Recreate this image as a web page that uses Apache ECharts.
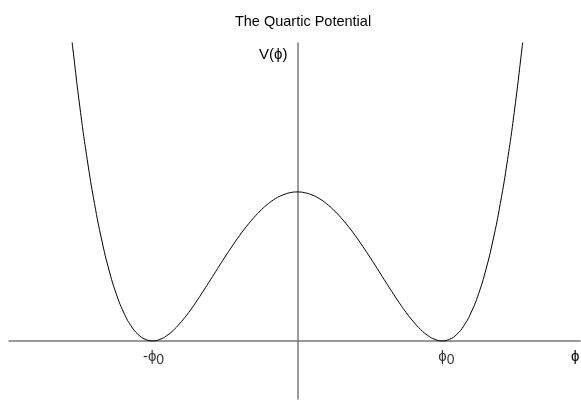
<!DOCTYPE html>
<html>
<head>
<meta charset="utf-8">
<script src="https://cdn.jsdelivr.net/npm/echarts@6/dist/echarts.min.js"></script>
<style>
  html, body { margin: 0; padding: 0; background: #fff; }
  #chart { width: 581px; height: 412px; }
</style>
</head>
<body>
<div id="chart"></div>
<script>
// Field values phi (in units of phi0) and the potential V(phi) (in units of V(0))
const phi = [
  -1.56, -1.55, -1.50, -1.45, -1.40, -1.35, -1.30, -1.25, -1.20, -1.15, -1.10, -1.05,
  -1.00, -0.95, -0.90, -0.85, -0.80, -0.75, -0.70, -0.65, -0.60, -0.55, -0.50, -0.45,
  -0.40, -0.35, -0.30, -0.25, -0.20, -0.15, -0.10, -0.05, 0.00,
  0.05, 0.10, 0.15, 0.20, 0.25, 0.30, 0.35, 0.40, 0.45, 0.50, 0.55, 0.60, 0.65,
  0.70, 0.75, 0.80, 0.85, 0.90, 0.95, 1.00, 1.05, 1.10, 1.15, 1.20, 1.25, 1.30,
  1.35, 1.40, 1.45, 1.50, 1.55, 1.56
];
const potential = [
  2.055, 1.967, 1.563, 1.216, 0.922, 0.677, 0.476, 0.316, 0.194, 0.104, 0.044, 0.011,
  0.000, 0.010, 0.036, 0.077, 0.130, 0.191, 0.260, 0.334, 0.410, 0.487, 0.563, 0.636,
  0.706, 0.770, 0.828, 0.879, 0.922, 0.956, 0.980, 0.995, 1.000,
  0.995, 0.980, 0.956, 0.922, 0.879, 0.828, 0.770, 0.706, 0.636, 0.563, 0.487, 0.410, 0.334,
  0.260, 0.191, 0.130, 0.077, 0.036, 0.010, 0.000, 0.011, 0.044, 0.104, 0.194, 0.316, 0.476,
  0.677, 0.922, 1.216, 1.563, 1.967, 2.055
];
// Marked field values on the horizontal axis: the two minima
const minimaPhi = [-1, 1];
const minimaLabels = ['-\u03d5', '\u03d5'];

const points = phi.map((p, i) => [p, potential[i]]);
const FONT = 'Liberation Sans, Arial, Helvetica, sans-serif';
const FS = 15;
const axisGray = '#7a7a7a';

// each minimum label is nudged so the phi glyph itself sits under the minimum
const minimaPoints = minimaPhi.map((p, i) => ({
  value: [p, 0],
  name: minimaLabels[i],
  label: { offset: [p < 0 ? 1 : 4, 0] }
}));

const chart = echarts.init(document.getElementById('chart'), null, { renderer: 'canvas' });
chart.setOption({
  backgroundColor: '#ffffff',
  animation: false,
  title: {
    text: 'The Quartic Potential',
    left: 298, top: 9,
    textAlign: 'center',
    textStyle: { fontFamily: FONT, fontSize: 14.5, fontWeight: 'normal', color: '#000' }
  },
  grid: { left: 9, right: 1, top: 43, bottom: 13, containLabel: false, outerBoundsMode: 'none' },
  xAxis: {
    type: 'value',
    min: -1.99, max: 1.95,
    splitLine: { show: false },
    axisLine: { onZero: true, lineStyle: { color: axisGray, width: 1.5 } },
    axisTick: { show: false },
    axisLabel: { show: false },
    name: '\u03d5',
    nameLocation: 'end',
    nameGap: -9,
    nameTextStyle: {
      fontFamily: FONT, fontSize: FS, color: '#000',
      align: 'left', verticalAlign: 'top', padding: [8, 0, 0, 0]
    }
  },
  yAxis: {
    type: 'value',
    min: -0.39, max: 2.0,
    splitLine: { show: false },
    axisLine: { onZero: true, lineStyle: { color: axisGray, width: 1.5 } },
    axisTick: { show: false },
    axisLabel: { show: false },
    name: 'V(\u03d5)',
    nameLocation: 'end',
    nameGap: -12,
    nameTextStyle: {
      fontFamily: FONT, fontSize: FS, color: '#000',
      align: 'right', verticalAlign: 'middle', padding: [0, 10, 0, 0]
    }
  },
  series: [{
    type: 'line',
    data: points,
    smooth: true,
    showSymbol: false,
    clip: true,
    lineStyle: { color: '#000', width: 1 },
    emphasis: { disabled: true },
    silent: true
  }, {
    // labels for the two minima, hung just below the horizontal axis
    type: 'scatter',
    data: minimaPoints,
    symbolSize: 0,
    silent: true,
    label: {
      show: true,
      position: 'bottom',
      distance: 5,
      formatter: function (p) { return '{a|' + p.name + '}{s|0}'; },
      rich: {
        a: { fontFamily: FONT, fontSize: FS, color: '#000' },
        s: { fontFamily: FONT, fontSize: FS - 1, color: '#000', padding: [7, 0, 0, 0] }
      }
    }
  }]
});
</script>
</body>
</html>
